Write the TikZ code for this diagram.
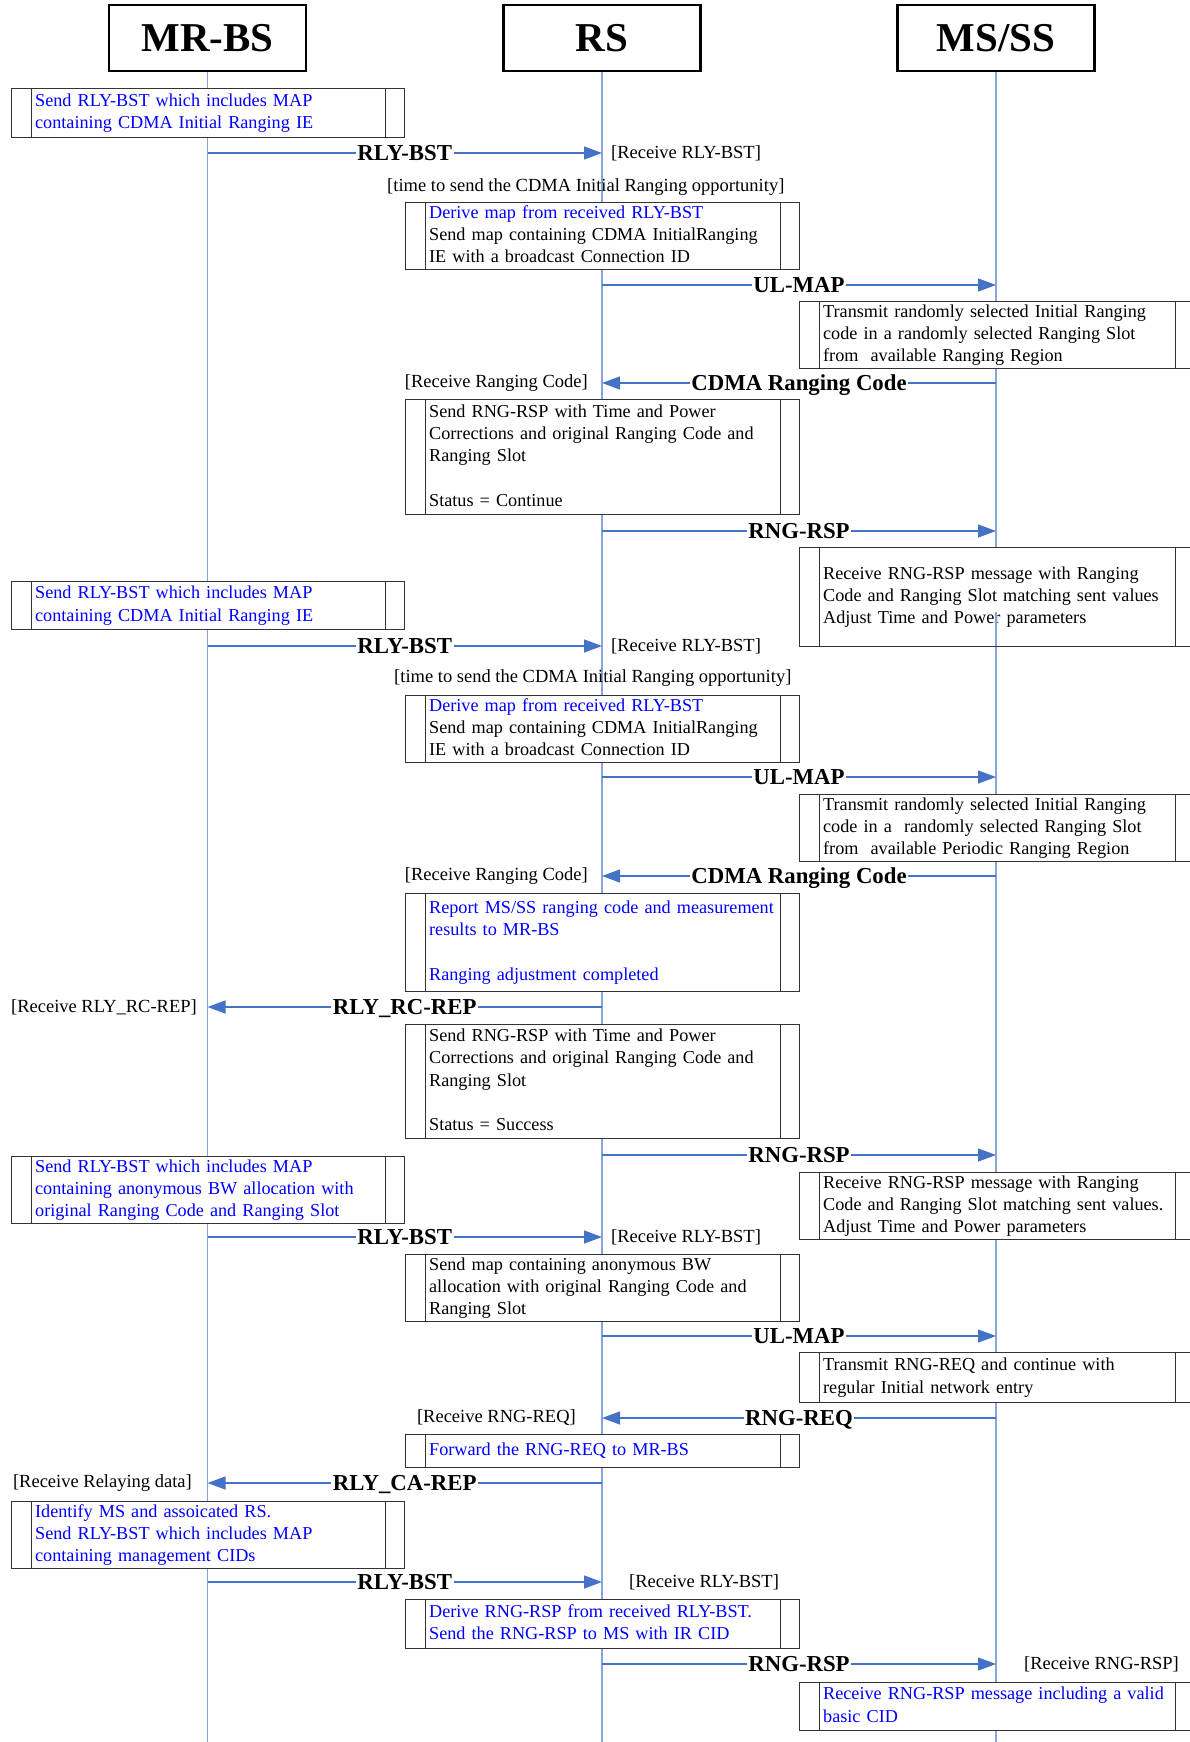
\documentclass[tikz,border=0pt]{standalone}
\usepackage{fontspec}
\setmainfont{Liberation Serif}
\usetikzlibrary{arrows.meta}
\definecolor{lifeblue}{RGB}{135,165,218}
\definecolor{arrowblue}{RGB}{68,114,196}
\definecolor{txtblue}{RGB}{0,0,255}
\tikzset{
  hdr/.style={draw=black, line width=2.5pt, minimum width=197pt, minimum height=66pt,
    inner sep=0pt, font=\bfseries\fontsize{41}{46}\selectfont},
  life/.style={draw=lifeblue, line width=1.4pt},
  msg/.style={draw=arrowblue, line width=1.3pt, -{Triangle[length=18pt,width=13pt]}},
  lbl/.style={fill=white, inner xsep=1.5pt, inner ysep=0pt, text height=15.2pt, text depth=0pt,
    font=\bfseries\fontsize{22.8}{26}\selectfont},
  note/.style={inner sep=0pt, font=\fontsize{18.5}{22.3}\selectfont},
  actbox/.style={draw=black!80, line width=1.3pt, fill=white, anchor=north west,
    inner xsep=23.5pt, inner ysep=0pt, align=left,
    font=\fontsize{18.2}{22.3}\selectfont,
    execute at begin node={\strut\hyphenpenalty=10000\hfuzz=50pt}, execute at end node=\strut,
    path picture={
      \draw[black!80, line width=1.3pt]
        ([xshift=19.5pt]path picture bounding box.north west) -- ([xshift=19.5pt]path picture bounding box.south west)
        ([xshift=-19.5pt]path picture bounding box.north east) -- ([xshift=-19.5pt]path picture bounding box.south east);
    }},
  mrbox/.style={actbox, minimum width=393pt, text width=346pt},
  rsbox/.style={actbox, minimum width=394pt, text width=347pt},
  msbox/.style={actbox, minimum width=395pt, text width=348pt},
}
\begin{document}
\begin{tikzpicture}[x=1pt,y=-1pt]
\useasboundingbox (0,0) rectangle (1190,1742);
\clip (0,0) rectangle (1190,1742);

% headers
\node[hdr] (mrbs) at (207.5,38) {MR-BS};
\node[hdr] (rs) at (602,38) {RS};
\node[hdr] (ms) at (996,38) {MS/SS};

% lifelines
\coordinate (mrbsEnd) at (207.5,1745);
\coordinate (rsEnd) at (602,1745);
\coordinate (msEnd) at (996,1745);
\draw[life] (mrbs.south) -- (mrbsEnd);
\draw[life] (rs.south) -- (rsEnd);
\draw[life] (ms.south) -- (msEnd);

% action boxes
\node[mrbox, minimum height=49pt, text=txtblue] (A1) at (11,88)
  {Send RLY-BST which includes MAP\\containing CDMA Initial Ranging IE};
\node[rsbox, minimum height=66pt] (R1) at (405,202)
  {\textcolor{txtblue}{Derive map from received RLY-BST}\\\mbox{Send map containing CDMA InitialRanging}\\IE with a broadcast Connection ID};
\node[msbox, minimum height=66pt] (M1) at (799,301)
  {\mbox{Transmit randomly selected Initial Ranging}\\code in a randomly selected Ranging Slot\\from~ available Ranging Region};
\node[rsbox, minimum height=115pt] (R2) at (405,399)
  {Send RNG-RSP with Time and Power\\\mbox{Corrections and original Ranging Code and}\\Ranging Slot\\ \mbox{}\\Status = Continue};
\node[msbox, minimum height=99pt] (M2) at (799,547)
  {Receive RNG-RSP message with Ranging\\\mbox{Code and Ranging Slot matching sent values}\\Adjust Time and Power parameters};
\node[mrbox, minimum height=48pt, text=txtblue] (A2) at (11,581)
  {Send RLY-BST which includes MAP\\containing CDMA Initial Ranging IE};
\node[rsbox, minimum height=66pt] (R3) at (405,695)
  {\textcolor{txtblue}{Derive map from received RLY-BST}\\\mbox{Send map containing CDMA InitialRanging}\\IE with a broadcast Connection ID};
\node[msbox, minimum height=66pt] (M3) at (799,794)
  {\mbox{Transmit randomly selected Initial Ranging}\\\mbox{code in a~ randomly selected Ranging Slot}\\\mbox{from~ available Periodic Ranging Region}};
\node[rsbox, minimum height=98pt, text=txtblue] (R4) at (405,893)
  {\mbox{Report MS/SS ranging code and measurement}\\results to MR-BS\\ \mbox{}\\Ranging adjustment completed};
\node[rsbox, minimum height=114pt] (R5) at (405,1024)
  {Send RNG-RSP with Time and Power\\\mbox{Corrections and original Ranging Code and}\\Ranging Slot\\ \mbox{}\\Status = Success};
\node[mrbox, minimum height=65pt, text=txtblue] (A3) at (11,1156)
  {Send RLY-BST which includes MAP\\\mbox{containing anonymous BW allocation with}\\\mbox{original Ranging Code and Ranging Slot}};
\node[msbox, minimum height=65pt] (M4) at (799,1172)
  {Receive RNG-RSP message with Ranging\\\mbox{Code and Ranging Slot matching sent values.}\\Adjust Time and Power parameters};
\node[rsbox, minimum height=65pt] (R6) at (405,1254)
  {Send map containing anonymous BW\\\mbox{allocation with original Ranging Code and}\\Ranging Slot};
\node[msbox, minimum height=50pt] (M5) at (799,1352)
  {Transmit RNG-REQ and continue with\\regular Initial network entry};
\node[rsbox, minimum height=33pt, text=txtblue] (R7) at (405,1434)
  {Forward the RNG-REQ to MR-BS};
\node[mrbox, minimum height=65pt, text=txtblue] (A4) at (11,1501)
  {Identify MS and assoicated RS.\\Send RLY-BST which includes MAP\\containing management CIDs};
\node[rsbox, minimum height=49pt, text=txtblue] (R8) at (405,1599)
  {\mbox{Derive RNG-RSP from received RLY-BST.}\\Send the RNG-RSP to MS with IR CID};
\node[msbox, minimum height=48pt, text=txtblue] (M6) at (799,1682)
  {\mbox{Receive RNG-RSP message including a valid}\\basic CID};

% visible lifeline piece inside M2
\coordinate (m2a) at (996,612);
\coordinate (m2b) at (996,646);
\draw[life] (m2a) -- (m2b);

% message end points
\coordinate (p1a) at (207.5,153);  \coordinate (p1b) at (602,153);
\coordinate (p2a) at (602,285);    \coordinate (p2b) at (996,285);
\coordinate (p3a) at (996,383);    \coordinate (p3b) at (602,383);
\coordinate (p4a) at (602,531);    \coordinate (p4b) at (996,531);
\coordinate (p5a) at (207.5,646);  \coordinate (p5b) at (602,646);
\coordinate (p6a) at (602,777);    \coordinate (p6b) at (996,777);
\coordinate (p7a) at (996,876);    \coordinate (p7b) at (602,876);
\coordinate (p8a) at (602,1007);   \coordinate (p8b) at (207.5,1007);
\coordinate (p9a) at (602,1155);   \coordinate (p9b) at (996,1155);
\coordinate (p10a) at (207.5,1237); \coordinate (p10b) at (602,1237);
\coordinate (p11a) at (602,1336);  \coordinate (p11b) at (996,1336);
\coordinate (p12a) at (996,1418);  \coordinate (p12b) at (602,1418);
\coordinate (p13a) at (602,1483);  \coordinate (p13b) at (207.5,1483);
\coordinate (p14a) at (207.5,1582); \coordinate (p14b) at (602,1582);
\coordinate (p15a) at (602,1664);  \coordinate (p15b) at (996,1664);

% messages
\draw[msg] (p1a) -- node[lbl] (l1) {RLY-BST} (p1b);
\draw[msg] (p2a) -- node[lbl] (l2) {UL-MAP} (p2b);
\draw[msg] (p3a) -- node[lbl] (l3) {CDMA Ranging Code} (p3b);
\draw[msg] (p4a) -- node[lbl] (l4) {RNG-RSP} (p4b);
\draw[msg] (p5a) -- node[lbl] (l5) {RLY-BST} (p5b);
\draw[msg] (p6a) -- node[lbl] (l6) {UL-MAP} (p6b);
\draw[msg] (p7a) -- node[lbl] (l7) {CDMA Ranging Code} (p7b);
\draw[msg] (p8a) -- node[lbl] (l8) {RLY\_RC-REP} (p8b);
\draw[msg] (p9a) -- node[lbl] (l9) {RNG-RSP} (p9b);
\draw[msg] (p10a) -- node[lbl] (l10) {RLY-BST} (p10b);
\draw[msg] (p11a) -- node[lbl] (l11) {UL-MAP} (p11b);
\draw[msg] (p12a) -- node[lbl] (l12) {RNG-REQ} (p12b);
\draw[msg] (p13a) -- node[lbl] (l13) {RLY\_CA-REP} (p13b);
\draw[msg] (p14a) -- node[lbl] (l14) {RLY-BST} (p14b);
\draw[msg] (p15a) -- node[lbl] (l15) {RNG-RSP} (p15b);

% bracket notes
\node[note, anchor=west] (n1) at (611,153) {[Receive RLY-BST]};
\node[note, anchor=west] (n2) at (387,187) {[time to send the CDMA Initial Ranging opportunity]};
\node[note, anchor=east] (n3) at (588,383) {[Receive Ranging Code]};
\node[note, anchor=west] (n4) at (611,646) {[Receive RLY-BST]};
\node[note, anchor=west] (n5) at (394,678) {[time to send the CDMA Initial Ranging opportunity]};
\node[note, anchor=east] (n6) at (588,876) {[Receive Ranging Code]};
\node[note, anchor=east] (n7) at (197,1007) {[Receive RLY\_RC-REP]};
\node[note, anchor=west] (n8) at (611,1237) {[Receive RLY-BST]};
\node[note, anchor=east] (n9) at (576,1418) {[Receive RNG-REQ]};
\node[note, anchor=east] (n10) at (192,1483) {[Receive Relaying data]};
\node[note, anchor=west] (n11) at (629,1582) {[Receive RLY-BST]};
\node[note, anchor=west] (n12) at (1024,1664) {[Receive RNG-RSP]};
\end{tikzpicture}
\end{document}
